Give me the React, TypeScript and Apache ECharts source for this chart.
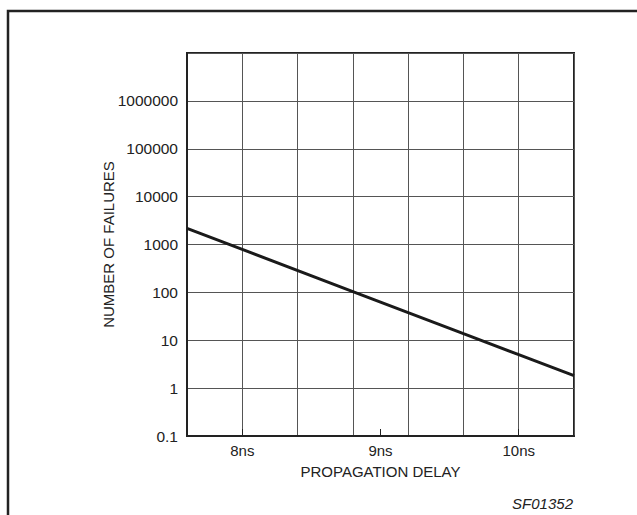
import React, { useEffect, useRef } from "react";
import * as echarts from "echarts";

// Propagation delay (ns) vs number of failures (log scale)
const delayNs = [7.6, 8.0, 8.8, 9.6, 10.0, 10.4];
const failures = [2170, 790, 104, 13.7, 5.0, 1.82];
const xLabelValues = [8, 9, 10];
const xLabels = ["8ns", "9ns", "10ns"];
const yMin = 0.1;
const yMax = 10000000;

export default function App() {
  const ref = useRef<HTMLDivElement>(null);
  useEffect(() => {
    document.body.style.margin = "0";
    if (!ref.current) return;
    const chart = echarts.init(ref.current, null, { renderer: "svg" });
    const font = "Liberation Sans, Arial, Helvetica, sans-serif";
    chart.setOption({
      animation: false,
      backgroundColor: "#ffffff",
      grid: {
        left: 187,
        right: 63,
        top: 53,
        bottom: 79,
        show: true,
        borderColor: "#222",
        borderWidth: 2,
        backgroundColor: "transparent",
      },
      xAxis: [
        {
          type: "value",
          min: 7.6,
          max: 10.4,
          interval: 0.4,
          axisLine: { show: true, lineStyle: { color: "#222", width: 2 } },
          axisTick: { show: false },
          axisLabel: { show: false },
          splitLine: { show: true, lineStyle: { color: "#555", width: 1 } },
        },
        {
          type: "value",
          position: "bottom",
          min: 7.6,
          max: 10.4,
          name: "PROPAGATION DELAY",
          nameLocation: "middle",
          nameGap: 28,
          nameMoveOverlap: false,
          nameTextStyle: { fontFamily: font, fontSize: 15, color: "#222" },
          axisLine: { show: false },
          axisTick: {
            show: true,
            inside: true,
            length: 7,
            customValues: xLabelValues,
            lineStyle: { color: "#222", width: 1 },
          },
          axisLabel: {
            customValues: xLabelValues,
            formatter: (v: number) => {
              const i = xLabelValues.findIndex((x) => Math.abs(x - v) < 1e-6);
              return i >= 0 ? xLabels[i] : "";
            },
            fontFamily: font,
            fontSize: 15,
            color: "#222",
            margin: 7,
          },
          splitLine: { show: false },
        },
      ],
      yAxis: {
        type: "log",
        logBase: 10,
        min: yMin,
        max: yMax,
        name: "NUMBER OF FAILURES",
        nameLocation: "middle",
        nameGap: 71,
        nameMoveOverlap: false,
        nameTextStyle: { fontFamily: font, fontSize: 15, color: "#222" },
        axisLine: { show: true, lineStyle: { color: "#222", width: 2 } },
        axisTick: { show: false },
        axisLabel: {
          formatter: (v: number) => {
            const n = Number(v.toPrecision(6));
            if (n >= yMax * 0.999) return "";
            return String(n);
          },
          fontFamily: font,
          fontSize: 15.5,
          color: "#222",
          margin: 9,
        },
        splitLine: { show: true, lineStyle: { color: "#555", width: 1 } },
      },
      series: [
        {
          type: "line",
          xAxisIndex: 0,
          data: delayNs.map((x, i) => [x, failures[i]]),
          showSymbol: false,
          symbol: "none",
          lineStyle: { color: "#1a1a1a", width: 3 },
          clip: true,
        },
      ],
      graphic: [
        {
          type: "rect",
          shape: { x: 8, y: 11, width: 700, height: 600 },
          style: { fill: "none", stroke: "#222", lineWidth: 2.5 },
          silent: true,
        },
        {
          type: "text",
          x: 573,
          y: 503,
          style: {
            text: "SF01352",
            fontFamily: font,
            fontSize: 15,
            fontStyle: "italic",
            fill: "#222",
            align: "right",
            verticalAlign: "middle",
          },
        },
      ],
    });
    return () => chart.dispose();
  }, []);
  return (
    <div
      ref={ref}
      style={{ position: "absolute", left: 0, top: 0, width: 637, height: 515 }}
    />
  );
}
